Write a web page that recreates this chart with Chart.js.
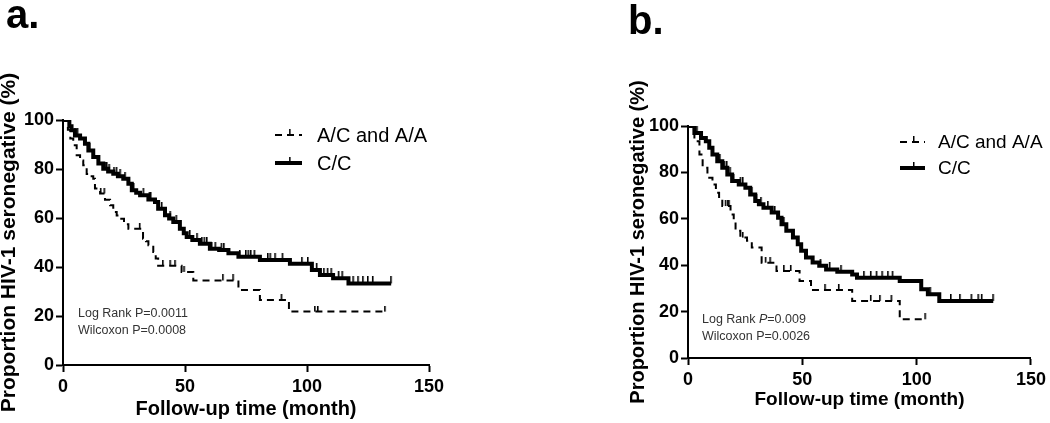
<!DOCTYPE html>
<html>
<head>
<meta charset="utf-8">
<script src="https://cdn.jsdelivr.net/npm/chart.js@4.4.0/dist/chart.umd.min.js"></script>
<style>
  html, body { margin: 0; padding: 0; background: #fff; }
  #wrap { position: relative; width: 1050px; height: 423px; overflow: hidden; }
  canvas { position: absolute; top: 0; }
  #chartA { left: 0; }
  #chartB { left: 525px; }
</style>
</head>
<body>
<div id="wrap">
  <canvas id="chartA" width="525" height="423"></canvas>
  <canvas id="chartB" width="525" height="423"></canvas>
</div>
<script>
// ---- values (Kaplan-Meier steps: time in months, % seronegative) ----
const X_TICKS = [0, 50, 100, 150];
const Y_TICKS = [0, 20, 40, 60, 80, 100];
const GROUPS = ['A/C and A/A', 'C/C'];

// panel a
const aDashT = [0, 2, 3, 4.2, 5.6, 7, 8.3, 9.7, 11, 12.4, 13.1, 15.2, 17.2, 19.3, 20.6, 22, 23.4, 25, 26.8, 32.8, 34, 35, 37, 38, 39, 48.6, 53.4, 71.9, 80.7, 92.6];
const aDashS = [100, 96, 92.4, 89.7, 85.6, 83.5, 81.5, 78, 77, 76, 72, 70, 67.5, 65.2, 62.4, 61, 59.7, 57.5, 55.6, 51.5, 50.5, 48.9, 46.1, 43.5, 40.5, 38, 34.5, 30.6, 26.5, 21.8];
const aDashEnd = 132;
const aDashCens = [15.5, 17, 31.5, 41, 44, 46, 49.7, 65.6, 69.8, 89.6, 103.3, 104.5, 132];

const aSolidT = [0, 2.6, 3.5, 4.9, 7, 9, 10.4, 12.4, 14.5, 16.5, 18.5, 20.6, 22.5, 24.7, 26.8, 28.2, 30, 31.6, 35, 37.7, 39, 41.8, 43.5, 45.2, 47.9, 49.5, 50.7, 53, 56.1, 60.2, 64, 67.8, 71.9, 80.7, 93, 102, 105.3, 110.7, 117];
const aSolidS = [100, 97.5, 95.8, 93.7, 92.4, 90.3, 87.6, 84.9, 82.2, 80.1, 79, 78.1, 77, 76, 74, 71.3, 70.3, 69.3, 67.6, 66.5, 63.8, 61.1, 59.8, 58.4, 55.6, 53.8, 52.2, 51, 49.5, 47.5, 46.9, 45.6, 44.2, 42.9, 41.3, 38.8, 36.7, 35.4, 33.3];
const aSolidEnd = 134.5;
const aSolidCens = [5, 6, 11, 17.5, 18, 19, 21, 22, 23.5, 25.5, 29, 33, 35.5, 36, 40.5, 44, 46.5, 52, 55, 57, 58, 59, 61, 62.5, 65, 66, 72.5, 75, 76, 77, 78.5, 84, 85, 87, 90, 98, 100.4, 104, 107, 108.5, 110, 113, 114.5, 119, 121, 123, 125, 127, 134.5];

// panel b
const bDashT = [0, 2.8, 5, 6.4, 8.5, 10.7, 12.2, 13.6, 15, 18.6, 20, 20.8, 22.9, 25.8, 27.9, 32.2, 38.7, 48.8, 53.8, 71.8, 92.6];
const bDashS = [100, 93.4, 87.7, 82, 77.7, 74.8, 71.2, 68.4, 65.5, 61.9, 59.1, 54.8, 51.9, 50.5, 47.6, 41.1, 37.5, 33.2, 29.3, 24.6, 16.7];
const bDashEnd = 103.8;
const bDashCens = [16.5, 17.5, 18, 24, 34, 36, 42, 45, 60, 66, 80, 84, 89, 103.8];

const bSolidT = [0, 2.8, 5.7, 7.8, 9.3, 10.7, 12.8, 15, 17.2, 19.3, 22.2, 25.1, 27.2, 29.4, 31, 33, 36.6, 39.4, 40.9, 43, 45.9, 48, 49.5, 51.6, 54.5, 57.4, 60.4, 65.3, 71.8, 73.9, 92.6, 102, 104.9, 109.9];
const bSolidS = [100, 97, 94.8, 93.4, 90.6, 87.7, 84.8, 82, 79.1, 76.3, 74.8, 73.4, 70.5, 67.7, 66.3, 64.8, 62.7, 60.5, 57.6, 54.8, 51.9, 49, 46.2, 43.3, 41.2, 39.8, 38.2, 37.2, 36, 34.6, 33.2, 29.6, 27.5, 24.6];
const bSolidEnd = 133.5;
const bSolidCens = [4, 14, 16, 17, 18.5, 20, 23, 24, 28, 30, 32, 35, 38, 42, 58, 62, 67, 77, 80, 82.5, 85, 87.5, 89.5, 106, 115, 119, 124, 127, 128.5, 133.5];

const FONT = '"Liberation Sans", Arial, Helvetica, sans-serif';

// value of the step curve at time t (used to sit censor ticks on the line)
function survAt(times, surv, t) {
  let v = surv[0];
  for (let i = 0; i < times.length; i++) if (times[i] <= t) v = surv[i];
  return v;
}

// small vertical tick drawn above the point (censor mark)
function tickImage(h) {
  const c = document.createElement('canvas');
  c.width = 4; c.height = h * 2;
  const g = c.getContext('2d');
  g.fillStyle = '#000';
  g.fillRect(1, 0, 1.6, h);
  return c;
}
const tickSmall = tickImage(6);
const tickBig = tickImage(7);

function stepSet(times, surv, end, label, style) {
  const pts = times.map((t, i) => ({ x: t, y: surv[i] }));
  pts.push({ x: end, y: surv[surv.length - 1] });
  return Object.assign({
    label, data: pts, stepped: true, borderColor: '#000', backgroundColor: '#000',
    pointRadius: 0, fill: false, order: 2
  }, style);
}

function censorSet(times, surv, cens, img) {
  return {
    data: cens.map(t => ({ x: t, y: survAt(times, surv, t) })),
    showLine: false, pointStyle: img, pointRadius: 3, order: 1
  };
}

// text bits: panel letter, in-plot legend, test statistics
const panelText = {
  id: 'panelText',
  afterDraw(chart, args, o) {
    const ctx = chart.ctx;
    ctx.save();
    ctx.fillStyle = '#000';
    ctx.textBaseline = 'alphabetic';
    ctx.font = `bold 40px ${FONT}`;
    ctx.fillText(o.letter, o.letterX, o.letterY);

    // legend
    ctx.textBaseline = 'middle';
    ctx.font = `${o.legendSize}px ${FONT}`;
    GROUPS.forEach((name, i) => {
      const ds = chart.data.datasets[i];
      const y = o.legendY[i];
      ctx.strokeStyle = '#000';
      ctx.lineWidth = ds.borderWidth;
      ctx.setLineDash(ds.borderDash || []);
      ctx.beginPath();
      ctx.moveTo(o.legendX, y);
      ctx.lineTo(o.legendX + o.legendW, y);
      ctx.stroke();
      ctx.setLineDash([]);
      ctx.lineWidth = 1.5;
      ctx.beginPath();
      const mx = o.legendX + o.legendW * 0.55;
      ctx.moveTo(mx, y);
      ctx.lineTo(mx, y - 6);
      ctx.stroke();
      ctx.fillText(name, o.legendTextX, y + 1);
    });

    // statistics
    ctx.fillStyle = '#333';
    o.stats.forEach((parts, i) => {
      let x = o.statsX;
      parts.forEach(p => {
        ctx.font = `${p.italic ? 'italic ' : ''}${o.statsSize}px ${FONT}`;
        ctx.fillText(p.t, x, o.statsY[i]);
        x += ctx.measureText(p.t).width;
      });
    });
    ctx.restore();
  }
};

function buildChart(id, c) {
  const datasets = [
    stepSet(c.dashT, c.dashS, c.dashEnd, GROUPS[0], { borderWidth: 2, borderDash: [7, 5] }),
    stepSet(c.solidT, c.solidS, c.solidEnd, GROUPS[1], { borderWidth: 4 }),
    censorSet(c.dashT, c.dashS, c.dashCens, tickSmall),
    censorSet(c.solidT, c.solidS, c.solidCens, tickBig)
  ];
  return new Chart(document.getElementById(id), {
    type: 'line',
    data: { datasets },
    plugins: [panelText],
    options: {
      responsive: false,
      animation: false,
      layout: { padding: c.padding },
      plugins: {
        legend: { display: false },
        tooltip: { enabled: false },
        panelText: c.text
      },
      scales: {
        x: {
          type: 'linear', min: 0, max: 150,
          afterBuildTicks: axis => { axis.ticks = X_TICKS.map(v => ({ value: v })); },
          afterFit: axis => { axis.height = c.xHeight; },
          border: { display: true, color: '#000', width: 2 },
          grid: { display: true, drawOnChartArea: false, drawTicks: true, tickLength: 7, tickWidth: 2, tickColor: '#000' },
          ticks: { color: '#000', padding: 4, maxRotation: 0, font: { family: FONT, size: 18, weight: 'bold' } },
          title: {
            display: true, text: 'Follow-up time (month)', color: '#000',
            font: { family: FONT, size: c.xTitleSize, weight: 'bold' },
            padding: { top: 0, bottom: c.xTitlePad }
          }
        },
        y: {
          min: 0, max: 100,
          afterBuildTicks: axis => { axis.ticks = Y_TICKS.map(v => ({ value: v })); },
          afterFit: axis => { axis.width = 63; },
          border: { display: true, color: '#000', width: 2 },
          grid: { display: true, drawOnChartArea: false, drawTicks: true, tickLength: 7, tickWidth: 2, tickColor: '#000' },
          ticks: { color: '#000', padding: 2, font: { family: FONT, size: 18, weight: 'bold' } },
          title: {
            display: true, text: 'Proportion HIV-1 seronegative (%)', color: '#000',
            font: { family: FONT, size: c.yTitleSize, weight: 'bold' },
            padding: { top: c.yTitlePad, bottom: 0 }
          }
        }
      }
    }
  });
}

buildChart('chartA', {
  dashT: aDashT, dashS: aDashS, dashEnd: aDashEnd, dashCens: aDashCens,
  solidT: aSolidT, solidS: aSolidS, solidEnd: aSolidEnd, solidCens: aSolidCens,
  padding: { left: 0, top: 120, right: 96, bottom: 0 },
  xHeight: 58, xTitleSize: 20, xTitlePad: 2, yTitleSize: 21, yTitlePad: -3,
  text: {
    letter: 'a.', letterX: 6, letterY: 28,
    legendX: 275, legendW: 27, legendTextX: 317, legendY: [135, 163], legendSize: 20,
    statsX: 78, statsY: [314, 331], statsSize: 12.5,
    stats: [[{ t: 'Log Rank P=0.0011' }], [{ t: 'Wilcoxon P=0.0008' }]]
  }
});

buildChart('chartB', {
  dashT: bDashT, dashS: bDashS, dashEnd: bDashEnd, dashCens: bDashCens,
  solidT: bSolidT, solidS: bSolidS, solidEnd: bSolidEnd, solidCens: bSolidCens,
  padding: { left: 100, top: 126, right: 14, bottom: 0 },
  xHeight: 65, xTitleSize: 19, xTitlePad: 11.5, yTitleSize: 20, yTitlePad: 1,
  text: {
    letter: 'b.', letterX: 103, letterY: 34,
    legendX: 375, legendW: 25, legendTextX: 413, legendY: [142, 168], legendSize: 19,
    statsX: 177, statsY: [320, 337], statsSize: 12.5,
    stats: [[{ t: 'Log Rank ' }, { t: 'P', italic: true }, { t: '=0.009' }], [{ t: 'Wilcoxon P=0.0026' }]]
  }
});
</script>
</body>
</html>
